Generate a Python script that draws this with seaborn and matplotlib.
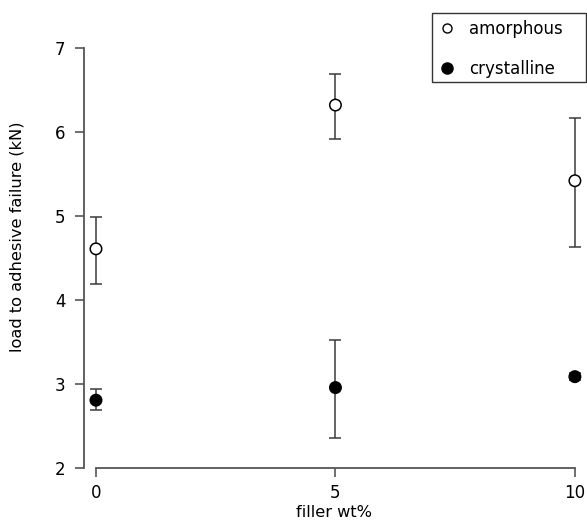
import matplotlib
matplotlib.use("Agg")
import matplotlib.pyplot as plt
from matplotlib.lines import Line2D
from matplotlib.patches import Rectangle
import numpy as np
import pandas as pd
import seaborn as sns

# filler loading (wt%)
filler = [0, 5, 10]

# mean load to adhesive failure (kN) with lower / upper error limits
amorphous_mean = [4.61, 6.32, 5.42]
amorphous_low = [4.19, 5.92, 4.63]
amorphous_high = [4.99, 6.69, 6.17]

crystalline_mean = [2.81, 2.96, 3.09]
crystalline_low = [2.69, 2.36, 3.05]
crystalline_high = [2.94, 3.52, 3.13]

x_ticks = [0, 5, 10]
y_ticks = [2, 3, 4, 5, 6, 7]

df = pd.DataFrame({
    "filler": filler * 2,
    "load": amorphous_mean + crystalline_mean,
    "low": amorphous_low + crystalline_low,
    "high": amorphous_high + crystalline_high,
    "form": ["amorphous"] * 3 + ["crystalline"] * 3,
})

sns.set_theme(style="ticks")
plt.rcParams["font.family"] = ["DejaVu Sans"]
plt.rcParams["text.color"] = "black"
plt.rcParams["axes.labelcolor"] = "black"

W, H = 587, 523
fig = plt.figure(figsize=(W / 100, H / 100), dpi=100)
ax = fig.add_axes([84 / W, 54.7 / H, 500 / W, 463.3 / H])

axis_grey = "#555555"

# error bars
for _, row in df.iterrows():
    ax.errorbar(row["filler"], row["load"],
                yerr=[[row["load"] - row["low"]], [row["high"] - row["load"]]],
                fmt="none", ecolor="#3a3a3a", elinewidth=1.1,
                capsize=4.5, capthick=1.1, zorder=2)

sns.scatterplot(data=df, x="filler", y="load", hue="form",
                palette={"amorphous": "white", "crystalline": "black"},
                edgecolor="black", linewidth=1.1, s=68, legend=False,
                zorder=3, ax=ax)

ax.set_xlim(-0.25, 10.19)
ax.set_ylim(2, 7.51)
ax.set_xticks(x_ticks)
ax.set_yticks(y_ticks)
ax.set_xticklabels([str(v) for v in x_ticks])
ax.set_yticklabels([str(v) for v in y_ticks])

for side in ("top", "right"):
    ax.spines[side].set_visible(False)
ax.spines["left"].set_bounds(2, 7)
ax.spines["bottom"].set_bounds(0, 10)
for side in ("left", "bottom"):
    ax.spines[side].set_color(axis_grey)
    ax.spines[side].set_linewidth(1.3)

ax.tick_params(axis="both", colors=axis_grey, width=1.2, length=6.5,
               labelcolor="black", labelsize=12)
ax.tick_params(axis="x", pad=5)
ax.tick_params(axis="y", pad=7)

ax.set_xlabel("filler wt%", fontsize=11.7, labelpad=2)
ax.set_ylabel("load to adhesive failure (kN)", fontsize=11.7, labelpad=22)

# legend box with generous right margin
fig.patches.append(Rectangle((432 / W, 1 - 82 / H), 154 / W, 69 / H,
                             transform=fig.transFigure, fill=False,
                             edgecolor="#333333", linewidth=1.0, zorder=5))

handles = [
    Line2D([], [], linestyle="none", marker="o", markersize=6.5,
           markerfacecolor="white", markeredgecolor="black",
           markeredgewidth=1.0, label="amorphous"),
    Line2D([], [], linestyle="none", marker="o", markersize=8,
           markerfacecolor="black", markeredgecolor="black",
           label="crystalline"),
]
leg = fig.legend(handles=handles, loc="upper left",
                 bbox_to_anchor=(438.7 / W, 1 - 19.5 / H),
                 frameon=False, fontsize=12,
                 labelspacing=1.32, handlelength=1.0, handletextpad=0.82,
                 borderpad=0, borderaxespad=0)
for t in leg.get_texts():
    t.set_color("black")

fig.savefig("out.png", dpi=100)
